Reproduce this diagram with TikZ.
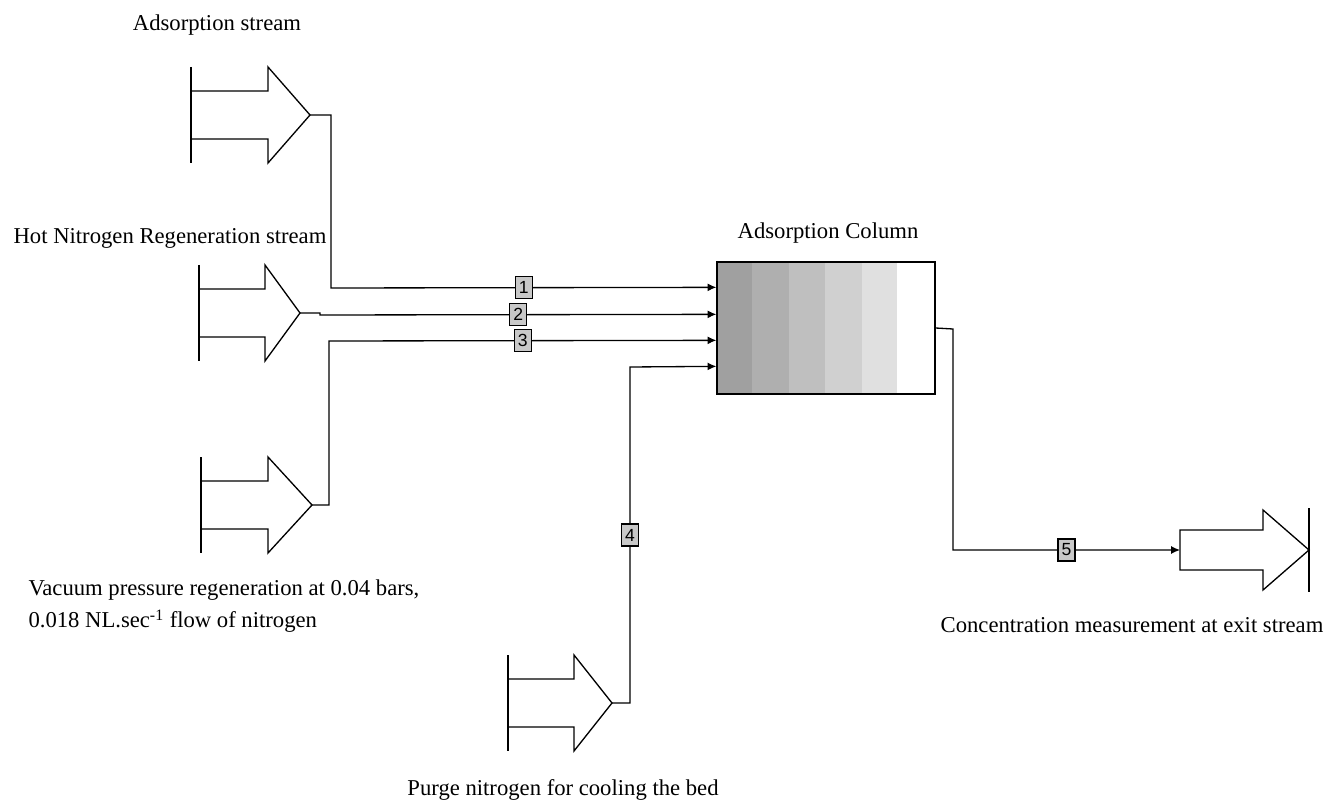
\documentclass[tikz,border=0pt]{standalone}
\usepackage{fontspec}
\setmainfont{Liberation Serif}
\newfontfamily\tagfont{Liberation Sans}
\usetikzlibrary{arrows.meta,calc}

\definecolor{bandA}{HTML}{A0A0A0}
\definecolor{bandB}{HTML}{AFAFAF}
\definecolor{bandC}{HTML}{BFBFBF}
\definecolor{bandD}{HTML}{D0D0D0}
\definecolor{bandE}{HTML}{E0E0E0}
\definecolor{tagfill}{HTML}{C8C8C8}

% feed arrow: #1 name of the tip, #2 bar x, #3 head x, #4 tip x, #5 tip y
\newcommand\inlet[5]{%
  \draw (#2,#5-48) -- (#2,#5+48);
  \draw (#2,#5-24) -- (#3,#5-24) -- (#3,#5-48) -- (#4,#5)
    -- (#3,#5+48) -- (#3,#5+24) -- (#2,#5+24);
  \coordinate (#1) at (#4,#5);
}

\begin{document}
\begin{tikzpicture}[
    x=0.02cm, y=-0.02cm,
    >={Latex[length=5pt,width=4.5pt]},
    line width=0.75pt,
    every node/.style={font=\fontsize{12.9}{18.5}\selectfont},
    tag/.style={draw, fill=tagfill, line width=0.6pt, inner sep=0pt,
      minimum width=0.34cm, minimum height=0.44cm,
      font=\tagfont\fontsize{10}{11}\selectfont},
  ]
  \useasboundingbox (0,0) rectangle (1324,803);

  % ---- feed arrows ---------------------------------------------------
  \inlet{ads}{191}{268}{310}{115}
  \inlet{hot}{199}{265}{300}{313}
  \inlet{vac}{201}{268}{312}{505}
  \inlet{purge}{508}{574}{612}{703}

  \node at (217,25) {Adsorption stream};
  \node at (170,238) {Hot Nitrogen Regeneration stream};
  \node[anchor=west, align=left] at (22,606)
    {Vacuum pressure regeneration at 0.04 bars,\\
     0.018 NL.sec\textsuperscript{-1} flow of nitrogen};
  \node at (563,790) {Purge nitrogen for cooling the bed};

  % ---- adsorption column ---------------------------------------------
  \fill[bandA] (717,262) rectangle (752,394);
  \fill[bandB] (752,262) rectangle (789,394);
  \fill[bandC] (789,262) rectangle (825,394);
  \fill[bandD] (825,262) rectangle (862,394);
  \fill[bandE] (862,262) rectangle (897,394);
  \node[draw, minimum width=4.36cm, minimum height=2.64cm, inner sep=0pt]
    (col) at (826,328) {};
  \node at (828,233) {Adsorption Column};

  \coordinate (c1) at ($(col.north west)+(0,26)$);
  \coordinate (c2) at ($(col.north west)+(0,53)$);
  \coordinate (c3) at ($(col.north west)+(0,79)$);
  \coordinate (c4) at ($(col.north west)+(0,105)$);

  % ---- streams into the column ---------------------------------------
  \coordinate (k1) at (331,288);
  \coordinate (k2) at (320,315);
  \coordinate (k3) at (329,341);
  \coordinate (k4) at (630,703);
  \coordinate (j4) at (630,367);

  \draw[->] (ads) -| (k1) -- node[tag]{1} (c1);
  \draw[->] (hot) -| (k2) -- node[tag]{2} (c2);
  \draw[->] (vac) -| (k3) -- node[tag]{3} (c3);
  \draw[->] (purge) -- (k4) -- node[tag]{4} (j4) -- (c4);

  % ---- exit stream ---------------------------------------------------
  \coordinate (k5) at (953,329);
  \coordinate (out) at (1180,550);
  \draw[->] (col.east) -- (k5) |- (953,550) -- node[tag]{5} (out);

  \draw (out) -- (1180,530) -- (1263,530) -- (1263,510) -- (1309,550)
    -- (1263,590) -- (1263,570) -- (1180,570) -- cycle;
  \draw (1309,508) -- (1309,592);
  \node at (1132,625) {Concentration measurement at exit stream};

\end{tikzpicture}
\end{document}
